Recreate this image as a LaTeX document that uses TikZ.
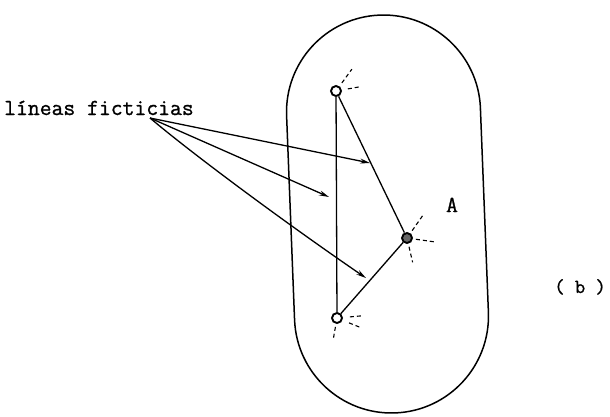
\documentclass[tikz,border=0pt]{standalone}
\usepackage{fontspec}
\newfontfamily\tw[FakeBold=1]{Latin Modern Mono}
\usetikzlibrary{arrows.meta,calc}
\begin{document}
\begin{tikzpicture}[x=1bp,y=-1bp,
  line/.style={line width=1.3bp},
  pt/.style={circle,draw,line width=1.9bp,minimum size=10bp,inner sep=0pt},
  spoke/.style={line width=1.1bp,dash pattern=on 4bp off 3bp},
  arr/.style={line width=1.3bp,-{Stealth[length=10bp,width=5bp]}},
  txt/.style={font=\tw\fontsize{23bp}{27bp}\selectfont,inner sep=0pt}
]
\useasboundingbox (0,0) rectangle (610,416);
% oval
\draw[line width=1.5bp] (480.4,108.2) -- (488.4,312.2)
  arc[start angle=-2.24,end angle=177.76,radius=97] -- (286.6,115.8)
  arc[start angle=177.76,end angle=357.76,radius=97] -- cycle;
% nodes
\node[pt] (T) at (336,91) {};
\node[pt,fill=black!60] (A) at (407,238) {};
\node[pt] (B) at (337,318) {};
\draw[line] (T) -- (B);
\draw[line] (T) -- (A);
\draw[line] (B) -- (A);
% spokes
\draw[spoke] ([shift={(-54:10)}]T.center) -- ([shift={(-54:27)}]T.center);
\draw[spoke] ([shift={(-10:12)}]T.center) -- ([shift={(-10:25)}]T.center);
\draw[spoke] ([shift={(-55:9)}]A.center) -- ([shift={(-55:30)}]A.center);
\draw[spoke] ([shift={(8:9)}]A.center) -- ([shift={(8:27)}]A.center);
\draw[spoke] ([shift={(77:9)}]A.center) -- ([shift={(77:25)}]A.center);
\draw[spoke] ([shift={(-5:13)}]B.center) -- ([shift={(-5:25)}]B.center);
\draw[spoke] ([shift={(22:13)}]B.center) -- ([shift={(22:24)}]B.center);
\draw[spoke] ([shift={(100:9)}]B.center) -- ([shift={(100:21)}]B.center);
% labels
\node[txt,anchor=base west] (lbl) at (4,115) {líneas ficticias};
\node[txt,anchor=base] (lA) at (452,212) {A};
\node[txt,anchor=base east,font=\tw\fontsize{20bp}{24bp}\selectfont] (lb) at (606,293) {( b )};
% arrows
\coordinate (S) at (150,118);
\coordinate (E1) at (370,163);
\coordinate (E2) at (329,197);
\coordinate (E3) at (366,278);
\draw[arr] (S) -- (E1);
\draw[arr] (S) -- (E2);
\draw[arr] (S) .. controls (195,156) and (290,226) .. (E3);
\end{tikzpicture}
\end{document}
